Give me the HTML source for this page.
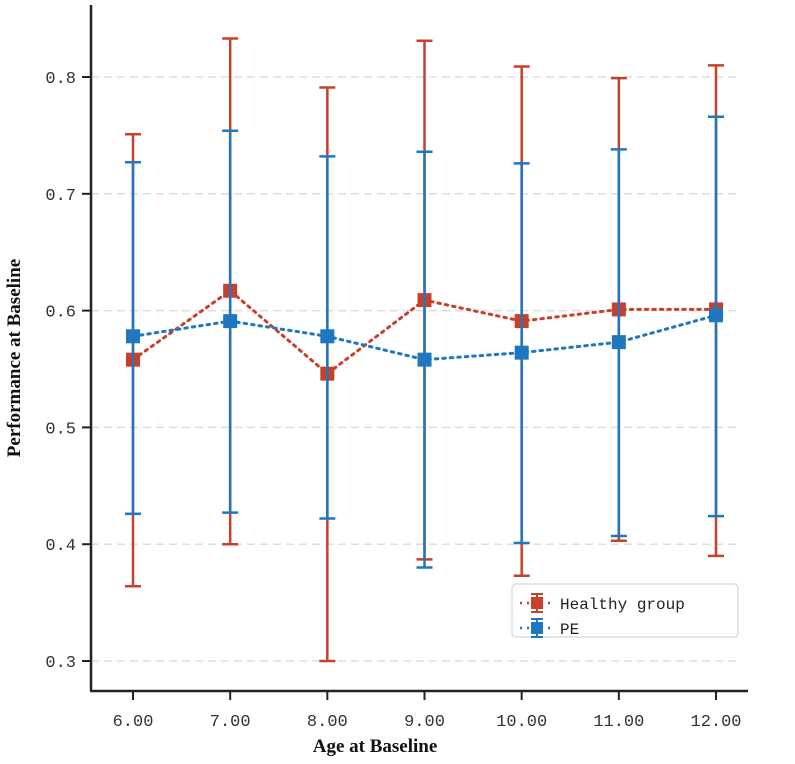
<!DOCTYPE html>
<html><head><meta charset="utf-8"><style>
html,body{margin:0;padding:0;background:#fff;}
svg{display:block;}
</style></head><body>
<svg id="chart" width="795" height="764" xmlns="http://www.w3.org/2000/svg">
<g id="grid"></g>
<g id="series"></g>
<line x1="91" y1="5" x2="91" y2="691" stroke="#222" stroke-width="2.5"/>
<line x1="90" y1="691" x2="748" y2="691" stroke="#222" stroke-width="2.5"/>
<g id="ticks"></g>
<text x="375" y="752" text-anchor="middle" font-family="Liberation Serif, serif" font-weight="bold" font-size="19" fill="#111">Age at Baseline</text>
<text transform="translate(20,358) rotate(-90)" text-anchor="middle" font-family="Liberation Serif, serif" font-weight="bold" font-size="19" fill="#111">Performance  at Baseline</text>
<g>
<rect x="512" y="584" width="226" height="53" rx="4" fill="#fff" stroke="#ddd" stroke-width="1.5"/>
<g>
<line x1="520" y1="603" x2="554" y2="603" stroke="#c8402a" stroke-width="2.5" stroke-dasharray="2,5"/>
<line x1="537" y1="594" x2="537" y2="612" stroke="#c8402a" stroke-width="2"/>
<line x1="531" y1="594" x2="543" y2="594" stroke="#c8402a" stroke-width="2"/>
<line x1="531" y1="612" x2="543" y2="612" stroke="#c8402a" stroke-width="2"/>
<rect x="531" y="597" width="12" height="12" fill="#c8402a"/>
<text x="560" y="609" font-family="Liberation Mono, monospace" font-size="16" fill="#222">Healthy group</text>
</g>
<g>
<line x1="520" y1="628" x2="554" y2="628" stroke="#1f77c0" stroke-width="2.5" stroke-dasharray="2,5"/>
<line x1="537" y1="619" x2="537" y2="637" stroke="#1f77c0" stroke-width="2"/>
<line x1="531" y1="619" x2="543" y2="619" stroke="#1f77c0" stroke-width="2"/>
<line x1="531" y1="637" x2="543" y2="637" stroke="#1f77c0" stroke-width="2"/>
<rect x="531" y="622" width="12" height="12" fill="#1f77c0"/>
<text x="560" y="634" font-family="Liberation Mono, monospace" font-size="16" fill="#222">PE</text>
</g>
</g>
</svg>
<script>
const categories = [6, 7, 8, 9, 10, 11, 12];
const xTickLabels = ["6.00","7.00","8.00","9.00","10.00","11.00","12.00"];
const yTicks = [0.3, 0.4, 0.5, 0.6, 0.7, 0.8];
const healthyMean = [0.558, 0.617, 0.546, 0.609, 0.591, 0.601, 0.601];
const healthyUpper = [0.751, 0.833, 0.791, 0.831, 0.809, 0.799, 0.810];
const healthyLower = [0.364, 0.400, 0.300, 0.387, 0.373, 0.403, 0.390];
const peMean = [0.578, 0.591, 0.578, 0.558, 0.564, 0.573, 0.596];
const peUpper = [0.727, 0.754, 0.732, 0.736, 0.726, 0.738, 0.766];
const peLower = [0.426, 0.427, 0.422, 0.380, 0.401, 0.407, 0.424];

const NS = "http://www.w3.org/2000/svg";
function xs(v){ return 133 + (v - 6) * 97.17; }
function ys(v){ return 661 - (v - 0.3) * 1168; }
function mk(tag, attrs, parent){
  const e = document.createElementNS(NS, tag);
  for (const k in attrs) e.setAttribute(k, attrs[k]);
  parent.appendChild(e);
  return e;
}
const grid = document.getElementById('grid');
const ticks = document.getElementById('ticks');
const series = document.getElementById('series');

yTicks.forEach(function(t){
  const g = mk('line', {x1: 91, x2: 738, y1: ys(t), y2: ys(t), stroke: '#ddd', 'stroke-width': 1.5, 'stroke-dasharray': '8,5'}, grid);
  
  
  const tk = mk('line', {x1: 82, x2: 91, y1: ys(t), y2: ys(t), stroke: '#222', 'stroke-width': 2}, ticks);
  
  
  const tx = mk('text', {x: 76, y: ys(t) + 6, 'text-anchor': 'end', 'font-family': 'Liberation Mono, monospace', 'font-size': 17, fill: '#333'}, ticks);
  tx.textContent = t.toFixed(1);
  
  
});
categories.forEach(function(c, i){
  const tk = mk('line', {x1: xs(c), x2: xs(c), y1: 691, y2: 700, stroke: '#222', 'stroke-width': 2}, ticks);
  
  
  const tx = mk('text', {x: xs(c), y: 726, 'text-anchor': 'middle', 'font-family': 'Liberation Mono, monospace', 'font-size': 17, fill: '#333'}, ticks);
  tx.textContent = xTickLabels[i];
  
  
});

function drawSeries(mean, up, lo, color, name){
  const g = mk('g', {}, series);
  
  
  categories.forEach(function(c, i){
    const x = xs(c);
    const eb = mk('g', {stroke: color, 'stroke-width': 2.5}, g);
    
    
    mk('line', {x1: x, x2: x, y1: ys(up[i]), y2: ys(lo[i])}, eb);
    mk('line', {x1: x - 8, x2: x + 8, y1: ys(up[i]), y2: ys(up[i])}, eb);
    mk('line', {x1: x - 8, x2: x + 8, y1: ys(lo[i]), y2: ys(lo[i])}, eb);
  });
  const pts = categories.map(function(c, i){ return xs(c) + ',' + ys(mean[i]); }).join(' ');
  const pl = mk('polyline', {points: pts, fill: 'none', stroke: color, 'stroke-width': 3, 'stroke-dasharray': '2.5,5', 'stroke-linecap': 'round'}, g);
  
  
  categories.forEach(function(c, i){
    const r = mk('rect', {x: xs(c) - 7, y: ys(mean[i]) - 7, width: 14, height: 14, fill: color}, g);
    
    
  });
}
drawSeries(healthyMean, healthyUpper, healthyLower, '#c8402a', 'healthy');
drawSeries(peMean, peUpper, peLower, '#1f77c0', 'pe');
</script>
</body></html>
